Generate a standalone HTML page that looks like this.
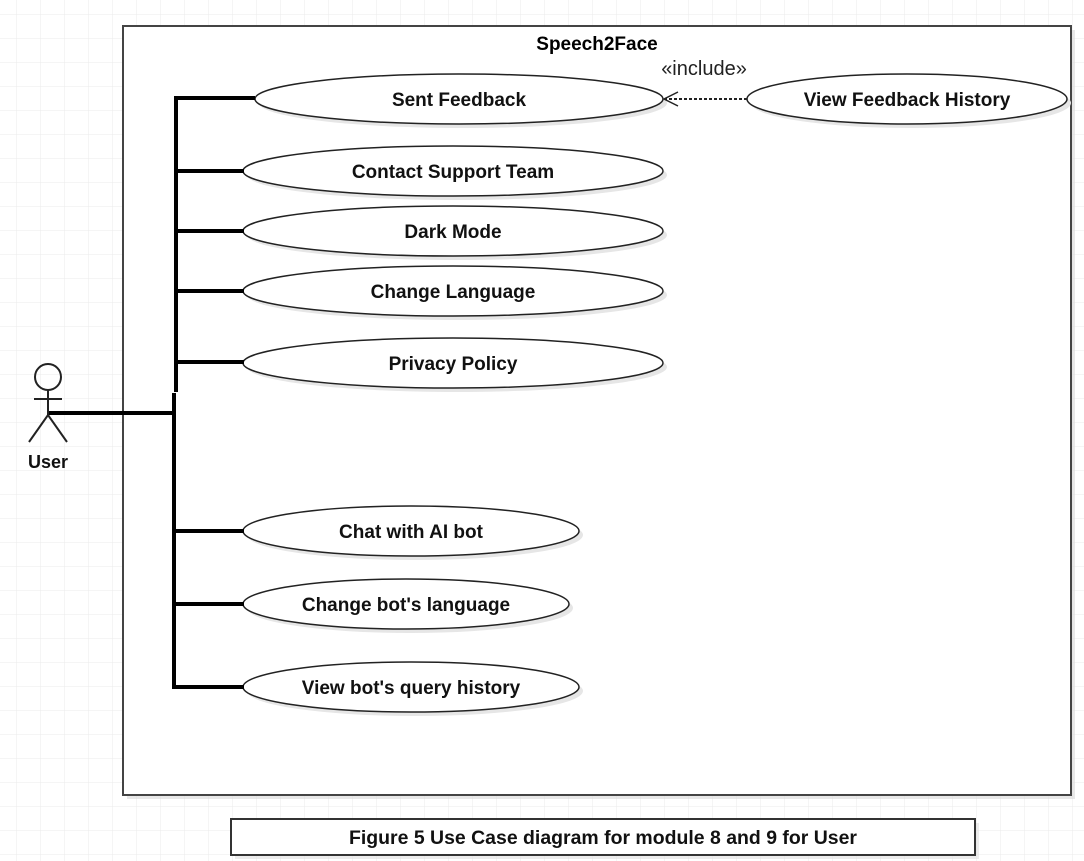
<!DOCTYPE html>
<html><head><meta charset="utf-8"><style>
html,body{margin:0;padding:0;background:#fff;}
svg{display:block;}
text{font-family:"Liberation Sans",sans-serif;}
</style></head><body>
<svg width="1084" height="861" viewBox="0 0 1084 861" xmlns="http://www.w3.org/2000/svg">
<defs>
<pattern id="g" x="16" y="14" width="24" height="24" patternUnits="userSpaceOnUse">
<path d="M0 0H24M0 0V24" stroke="#ebebeb" stroke-width="1" fill="none"/>
</pattern>
</defs>
<rect width="1084" height="861" fill="#fff"/>
<rect width="1084" height="861" fill="url(#g)"/>
<rect x="127" y="30" width="948" height="769" fill="#d8d8d8" opacity="0.6"/>
<rect x="123" y="26" width="948" height="769" fill="#fff" stroke="#444" stroke-width="2"/>
<text x="597" y="50" font-size="19" font-weight="bold" text-anchor="middle">Speech2Face</text>

<g fill="#e6e6e6">
<ellipse cx="463" cy="103" rx="204" ry="25"/>
<ellipse cx="457" cy="175" rx="210" ry="25"/>
<ellipse cx="457" cy="235" rx="210" ry="25"/>
<ellipse cx="457" cy="295" rx="210" ry="25"/>
<ellipse cx="457" cy="367" rx="210" ry="25"/>
<ellipse cx="415" cy="535" rx="168" ry="25"/>
<ellipse cx="410" cy="608" rx="163" ry="25"/>
<ellipse cx="415" cy="691" rx="168" ry="25"/>
<ellipse cx="911" cy="103" rx="160" ry="25"/>
</g>
<g fill="#fff" stroke="#222" stroke-width="1.5">
<ellipse cx="459" cy="99" rx="204" ry="25"/>
<ellipse cx="453" cy="171" rx="210" ry="25"/>
<ellipse cx="453" cy="231" rx="210" ry="25"/>
<ellipse cx="453" cy="291" rx="210" ry="25"/>
<ellipse cx="453" cy="363" rx="210" ry="25"/>
<ellipse cx="411" cy="531" rx="168" ry="25"/>
<ellipse cx="406" cy="604" rx="163" ry="25"/>
<ellipse cx="411" cy="687" rx="168" ry="25"/>
<ellipse cx="907" cy="99" rx="160" ry="25"/>
</g>
<g font-size="19" font-weight="bold" text-anchor="middle" fill="#111">
<text x="459" y="106">Sent Feedback</text>
<text x="453" y="178">Contact Support Team</text>
<text x="453" y="238">Dark Mode</text>
<text x="453" y="298">Change Language</text>
<text x="453" y="370">Privacy Policy</text>
<text x="411" y="538">Chat with AI bot</text>
<text x="406" y="611">Change bot's language</text>
<text x="411" y="694">View bot's query history</text>
<text x="907" y="106">View Feedback History</text>
</g>
<text x="704" y="75" font-size="20" text-anchor="middle" fill="#222">«include»</text>
<line x1="747" y1="99" x2="665" y2="99" stroke="#222" stroke-width="2" stroke-dasharray="3,2"/>
<path d="M678 92L664 99L678 106" fill="none" stroke="#222" stroke-width="1.5"/>

<g stroke="#000" stroke-width="4" fill="none">
<line x1="176" y1="96" x2="176" y2="392"/>
<line x1="174" y1="393" x2="174" y2="689"/>
<line x1="174" y1="98" x2="255" y2="98"/>
<line x1="174" y1="171" x2="244" y2="171"/>
<line x1="174" y1="231" x2="244" y2="231"/>
<line x1="174" y1="291" x2="244" y2="291"/>
<line x1="174" y1="362" x2="244" y2="362"/>
<line x1="172" y1="531" x2="244" y2="531"/>
<line x1="172" y1="604" x2="244" y2="604"/>
<line x1="172" y1="687" x2="244" y2="687"/>
<line x1="47" y1="413" x2="174" y2="413"/>
</g>
<g stroke="#222" stroke-width="2" fill="none">
<circle cx="48" cy="377" r="13"/>
<line x1="48" y1="390" x2="48" y2="414"/>
<line x1="34" y1="399" x2="62" y2="399"/>
<path d="M29 442L48 415L67 442"/>
</g>
<text x="48" y="468" font-size="18" font-weight="bold" text-anchor="middle" fill="#111">User</text>

<rect x="235" y="823" width="744" height="36" fill="#e0e0e0" opacity="0.6"/>
<rect x="231" y="819" width="744" height="36" fill="#fff" stroke="#333" stroke-width="2"/>
<text x="603" y="844" font-size="19" font-weight="bold" text-anchor="middle" textLength="508" lengthAdjust="spacingAndGlyphs" fill="#111">Figure 5 Use Case diagram for module 8 and 9 for User</text>
</svg>
</body></html>
